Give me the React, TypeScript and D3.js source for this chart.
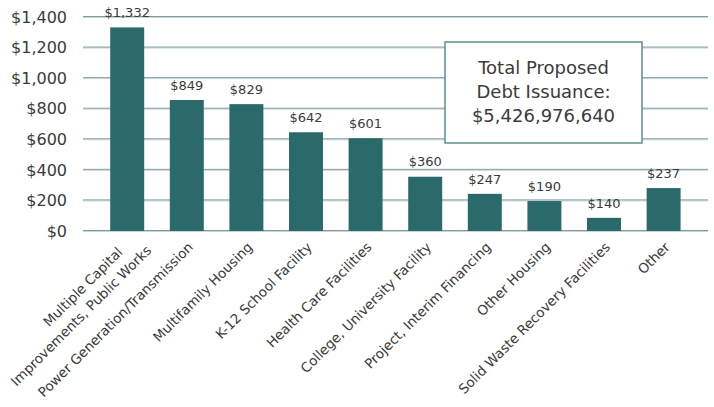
import React from "react";
import * as d3 from "d3";

const categories: string[][] = [
  ["Multiple Capital", "Improvements, Public Works"],
  ["Power Generation/Transmission"],
  ["Multifamily Housing"],
  ["K-12 School Facility"],
  ["Health Care Facilities"],
  ["College, University Facility"],
  ["Project, Interim Financing"],
  ["Other Housing"],
  ["Solid Waste Recovery Facilities"],
  ["Other"],
];
const barValues: number[] = [1332, 857, 830, 646, 607, 355, 243, 196, 86, 281];
const dataLabels: string[] = ["$1,332", "$849", "$829", "$642", "$601", "$360", "$247", "$190", "$140", "$237"];
const yTicks: number[] = [0, 200, 400, 600, 800, 1000, 1200, 1400];
const boxLines: string[] = ["Total Proposed", "Debt Issuance:", "$5,426,976,640"];

const W = 714;
const H = 407;
const FONT = "'DejaVu Sans', sans-serif";
const TEXT = "#3b3b3b";
const BAR = "#2b6a6b";

function measure(text: string, font: string): number {
  const c = document.createElement("canvas").getContext("2d");
  if (!c) return text.length * 8;
  c.font = font;
  return c.measureText(text).width;
}

export default function App() {
  const y = d3.scaleLinear().domain([0, 1400]).range([231, 17]);
  const x = d3
    .scaleBand<number>()
    .domain(categories.map((_, i) => i))
    .range([97.4, 693.4])
    .paddingInner(0.43)
    .paddingOuter(0.215);
  const gridX0 = 83;
  const gridX1 = 708;
  const fmt = (v: number) => "$" + d3.format(",")(v);
  const labelSize = 13.5;
  const labelFont = `${labelSize}px ${FONT}`;

  return (
    <svg
      width={W}
      height={H}
      style={{ position: "absolute", left: 0, top: 0, background: "#fff" }}
    >
      {yTicks.map((t) => (
        <g key={t}>
          <line x1={gridX0} x2={gridX1} y1={y(t) + 0.5} y2={y(t) + 0.5} stroke="#c9d5d6" strokeWidth={1} />
          <line x1={gridX0} x2={gridX1} y1={y(t) - 0.5} y2={y(t) - 0.5} stroke="#7f9b9d" strokeWidth={1} />
          <text
            x={67}
            y={y(t)}
            dy="0.36em"
            textAnchor="end"
            fontFamily={FONT}
            fontSize={16}
            fill={TEXT}
          >
            {fmt(t)}
          </text>
        </g>
      ))}
      {barValues.map((v, i) => (
        <rect
          key={i}
          x={x(i)}
          y={y(v)}
          width={x.bandwidth()}
          height={y(0) - y(v)}
          fill={BAR}
        />
      ))}
      {barValues.map((v, i) => (
        <text
          key={i}
          x={(x(i) as number) + x.bandwidth() / 2}
          y={y(v) - 15}
          dy="0.36em"
          textAnchor="middle"
          fontFamily={FONT}
          fontSize={13}
          fill={TEXT}
        >
          {dataLabels[i]}
        </text>
      ))}
      {categories.map((lines, i) => {
        const cx = (x(i) as number) + x.bandwidth() / 2;
        const widths = lines.map((l) => measure(l, labelFont));
        const maxW = Math.max(...widths);
        const n = lines.length;
        return (
          <g key={i} transform={`translate(${cx + 7},${248}) rotate(-45)`}>
            {lines.map((l, j) => (
              <text
                key={j}
                x={(n > 1 ? 10.5 : 0) - 0.25 * (maxW - widths[j])}
                y={n > 1 ? 15 - (n - 1 - j) * 19 : 0}
                textAnchor="end"
                fontFamily={FONT}
                fontSize={labelSize}
                fill={TEXT}
              >
                {l}
              </text>
            ))}
          </g>
        );
      })}
      <rect x={445} y={42} width={197} height={101} fill="#fff" stroke="#5e8e8f" strokeWidth={1.5} />
      {boxLines.map((l, i) => (
        <text
          key={i}
          x={543.5}
          y={68 + i * 24}
          dy="0.36em"
          textAnchor="middle"
          fontFamily={FONT}
          fontSize={18}
          fill={TEXT}
        >
          {l}
        </text>
      ))}
    </svg>
  );
}
